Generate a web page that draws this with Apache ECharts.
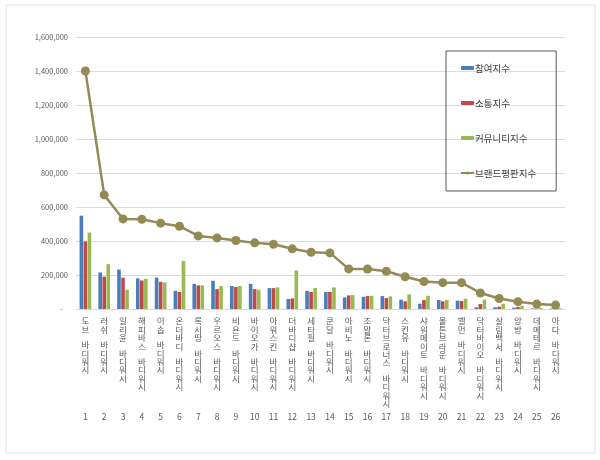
<!DOCTYPE html>
<html>
<head>
<meta charset="utf-8">
<script src="https://cdn.jsdelivr.net/npm/echarts@6/dist/echarts.min.js"></script>
<style>
  html, body { margin: 0; padding: 0; background: #fff; }
  #chart { width: 600px; height: 460px; }
</style>
</head>
<body>
<div id="chart"></div>
<script>
// 브랜드 이름 (카테고리)
var brands = ["도브 바디워시", "러쉬 바디워시", "일리윤 바디워시", "해피바스 바디워시", "이솝 바디워시",
    "온더바디 바디워시", "록시땅 바디워시", "우르오스 바디워시", "비욘드 바디워시", "바이오가 바디워시",
    "아워스킨 바디워시", "더바디샵 바디워시", "세타필 바디워시", "쿤달 바디워시", "아비노 바디워시",
    "조말론 바디워시", "닥터브로너스 바디워시", "스킨유 바디워시", "샤워메이트 바디워시", "몰튼브라운 바디워시",
    "벨먼 바디워시", "닥터바이오 바디워시", "살림백서 바디워시", "앙방 바디워시", "데메테르 바디워시", "아다 바디워시"];
var ranks = ["1","2","3","4","5","6","7","8","9","10","11","12","13","14","15","16","17","18","19","20","21","22","23","24","25","26"];

// 지수 값
var participation = [549000, 215000, 232000, 180000, 184000, 107000, 148000, 166000, 135000, 148000,
    123000, 59000, 107000, 100000, 68000, 72000, 76000, 55000, 31000, 53000,
    49000, 10000, 10000, 8000, 3000, 3000];
var communication = [397000, 190000, 184000, 168000, 160000, 100000, 139000, 117000, 129000, 117000,
    123000, 62000, 100000, 100000, 80000, 76000, 64000, 45000, 53000, 45000,
    47000, 29000, 14000, 12000, 3000, 3000];
var community = [450000, 264000, 113000, 178000, 156000, 282000, 139000, 135000, 135000, 113000,
    127000, 227000, 123000, 127000, 82000, 78000, 74000, 86000, 78000, 53000,
    60000, 55000, 31000, 19000, 6000, 5000];
var reputation = [1400000, 671000, 530000, 528000, 505000, 487000, 430000, 418000, 403000, 389000,
    381000, 354000, 334000, 330000, 236000, 235000, 222000, 190000, 162000, 155000,
    155000, 94000, 62000, 43000, 29000, 23000];

// y축 눈금
var yMax = 1600000;
var yStep = 200000;

var seriesNames = ["참여지수", "소통지수", "커뮤니티지수", "브랜드평판지수"];

var myChart = echarts.init(document.getElementById("chart"));

//세로 글자 (띄어쓰기는 조금 짧은 줄)
function verticalText(s) {
    return s.split("").map(function (c) {
        return c === " " ? "{s| }" : "{c|" + c + "}";
    }).join("\n");
}

function commaFormat(v) {
    if (v === 0) return "-   ";
    return v.toString().replace(/\B(?=(\d{3})+(?!\d))/g, ",");
}

var option = {
    animation: false,
    textStyle: { fontFamily: "Noto Sans CJK KR" },
    graphic: [{
        type: "rect",
        shape: { x: 6, y: 5, width: 589, height: 448 },
        style: { fill: "none", stroke: "#e4e4e4", lineWidth: 1 }
    }],
    grid: { left: 76, right: 35, top: 37, bottom: 151 },
    legend: {
        orient: "vertical",
        left: 446,
        top: 51,
        padding: [11, 20, 12, 14],
        itemGap: 23,
        itemWidth: 13,
        itemHeight: 4,
        borderColor: "#595959",
        borderWidth: 1,
        textStyle: { fontSize: 9.5, color: "#404040", lineHeight: 12, padding: [0, 0, 0, -4] },
        data: seriesNames
    },
    xAxis: [{
        type: "category",
        data: brands,
        axisLine: { lineStyle: { color: "#d9d9d9" } },
        axisTick: { length: 114, lineStyle: { color: "#d9d9d9" } },
        axisLabel: {
            interval: 0,
            margin: 8,
            color: "#595959",
            verticalAlign: "top",
            formatter: verticalText,
            rich: {
                c: { fontSize: 8.5, lineHeight: 8.4, color: "#595959" },
                s: { fontSize: 6, lineHeight: 7 }
            }
        }
    }, {
        type: "category",
        data: ranks,
        position: "bottom",
        offset: 101,
        axisLine: { show: false },
        axisTick: { show: false },
        axisLabel: { interval: 0, margin: 3, fontSize: 8.5, color: "#595959" }
    }],
    yAxis: {
        type: "value",
        min: 0,
        max: yMax,
        interval: yStep,
        axisLine: { show: false },
        axisTick: { show: false },
        splitLine: { lineStyle: { color: "#dcdcdc" } },
        axisLabel: { fontSize: 7.5, color: "#595959", margin: 8, formatter: commaFormat }
    },
    series: [{
        name: seriesNames[0],
        type: "bar",
        data: participation,
        barWidth: 3.6,
        barGap: "12%",
        itemStyle: { color: "#4A7EBB" }
    }, {
        name: seriesNames[1],
        type: "bar",
        data: communication,
        barWidth: 3.6,
        barGap: "12%",
        itemStyle: { color: "#BE4B48" }
    }, {
        name: seriesNames[2],
        type: "bar",
        data: community,
        barWidth: 3.6,
        barGap: "12%",
        itemStyle: { color: "#98B954" }
    }, {
        name: seriesNames[3],
        type: "line",
        data: reputation,
        symbol: "circle",
        symbolSize: 9,
        lineStyle: { color: "#948A54", width: 2.5 },
        itemStyle: { color: "#948A54" }
    }]
};

myChart.setOption(option);
window.onresize = myChart.resize;
</script>
</body>
</html>
